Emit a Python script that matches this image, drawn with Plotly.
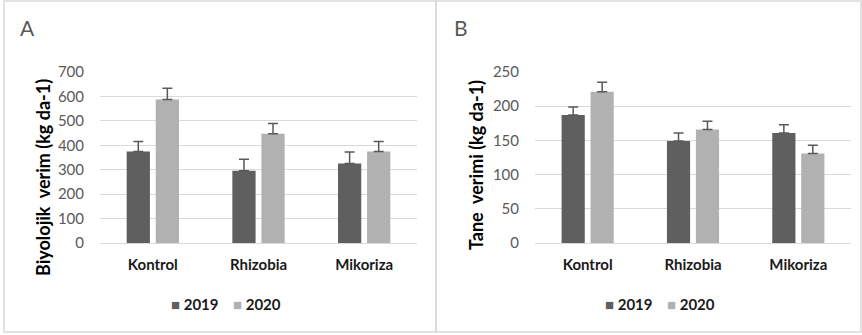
import plotly.graph_objects as go

W, H = 862, 335

categories = ["Kontrol", "Rhizobia", "Mikoriza"]
years = ["2019", "2020"]

# Biyolojik verim (kg da-1)
bio_2019 = [375, 296, 325]
bio_2020 = [587, 447, 375]
bio_err_2019 = [41, 47, 48]
bio_err_2020 = [46, 42, 41]

# Tane verimi (kg da-1)
grain_2019 = [187, 149, 161]
grain_2020 = [221, 166, 131]
grain_err_2019 = [12, 12, 12]
grain_err_2020 = [14, 12, 12]

bio_ticks = [0, 100, 200, 300, 400, 500, 600, 700]
grain_ticks = [0, 50, 100, 150, 200, 250]

colors = {"2019": "#5f5f5f", "2020": "#b1b1b1"}
FONT = "Lato"


def px_x(p):
    return p / W


def px_y(p):
    return 1 - p / H


fig = go.Figure()

panels = [
    ("x", "y", [bio_2019, bio_2020], [bio_err_2019, bio_err_2020]),
    ("x2", "y2", [grain_2019, grain_2020], [grain_err_2019, grain_err_2020]),
]

for xa, ya, vals, errs in panels:
    for yr, v, e in zip(years, vals, errs):
        fig.add_trace(go.Bar(
            x=categories, y=v, name=yr, xaxis=xa, yaxis=ya, showlegend=False,
            marker=dict(color=colors[yr], line=dict(width=0)),
            error_y=dict(type="data", array=e, arrayminus=[0] * len(e),
                         symmetric=False, color="#595959", thickness=1.5, width=5),
        ))

axis_common = dict(
    showline=True, linecolor="#d9d9d9", linewidth=1, automargin=False,
    tickfont=dict(family=FONT, size=15, color="#1a1a1a", weight="bold"),
    ticks="", fixedrange=True, ticklabelstandoff=8, showgrid=False, zeroline=False,
)
yaxis_common = dict(
    showgrid=True, gridcolor="#d9d9d9", gridwidth=1, zeroline=False, automargin=False,
    tickfont=dict(family=FONT, size=15, color="#595959"),
    ticks="", showline=False, ticklabelstandoff=15, fixedrange=True,
)
label_font = dict(family=FONT, size=18, color="#000000", weight="bold")
key_font = dict(family=FONT, size=15, color="#1a1a1a", weight="bold")

# Legend keys for each panel: a coloured square followed by the year
key_left = {"A": [169, 231], "B": [603, 665]}
key_annotations = []
for panel in ("A", "B"):
    for yr, left in zip(years, key_left[panel]):
        key_annotations.append(dict(
            text=f"<span style='color:{colors[yr]}'>■</span> {yr}",
            x=px_x(left), y=px_y(304), xref="paper", yref="paper",
            xanchor="left", yanchor="middle", showarrow=False, font=key_font,
        ))

fig.update_layout(
    template="none",
    width=W, height=H, autosize=False,
    margin=dict(l=0, r=0, t=0, b=0, pad=0, autoexpand=False),
    paper_bgcolor="white", plot_bgcolor="white",
    barmode="group", bargap=0.45, bargroupgap=0.2,
    showlegend=False,
    xaxis=dict(domain=[px_x(100), px_x(417)], anchor="y", **axis_common),
    xaxis2=dict(domain=[px_x(535), px_x(851)], anchor="y2", **axis_common),
    yaxis=dict(domain=[px_y(243), px_y(72)], anchor="x", range=[0, 700],
               tickvals=bio_ticks, **yaxis_common),
    yaxis2=dict(domain=[px_y(243), px_y(72)], anchor="x2", range=[0, 250],
                tickvals=grain_ticks, **yaxis_common),
    shapes=[
        dict(type="rect", xref="paper", yref="paper",
             x0=px_x(4), x1=px_x(436), y0=px_y(332), y1=px_y(1),
             line=dict(color="#d9d9d9", width=1.5)),
        dict(type="rect", xref="paper", yref="paper",
             x0=px_x(436), x1=px_x(861), y0=px_y(332), y1=px_y(1),
             line=dict(color="#d9d9d9", width=1.5)),
    ],
    annotations=[
        dict(text="A", x=px_x(27), y=px_y(28), xref="paper", yref="paper",
             xanchor="center", yanchor="middle", showarrow=False,
             font=dict(family=FONT, size=21, color="#595959")),
        dict(text="B", x=px_x(461), y=px_y(28), xref="paper", yref="paper",
             xanchor="center", yanchor="middle", showarrow=False,
             font=dict(family=FONT, size=21, color="#595959")),
        dict(text="Biyolojik  verim (kg da-1)", x=px_x(43), y=px_y(178),
             xref="paper", yref="paper", xanchor="center", yanchor="middle",
             textangle=-90, showarrow=False, font=label_font),
        dict(text="Tane  verimi (kg da-1)", x=px_x(476), y=px_y(165),
             xref="paper", yref="paper", xanchor="center", yanchor="middle",
             textangle=-90, showarrow=False, font=label_font),
    ] + key_annotations,
)

fig.write_html("out.html")
